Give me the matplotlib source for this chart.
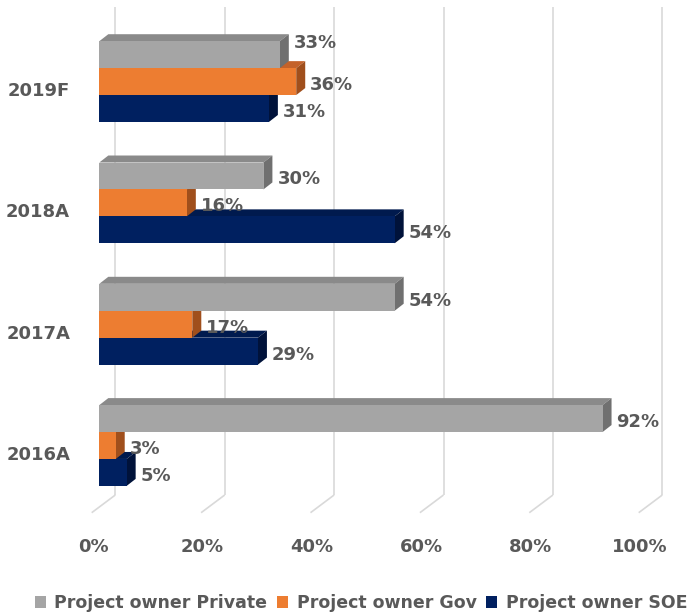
import matplotlib
matplotlib.use("Agg")
import matplotlib.pyplot as plt
from matplotlib.patches import Polygon, Patch
import numpy as np

# ---------------- data ----------------
categories = ["2016A", "2017A", "2018A", "2019F"]
series_names = ["Project owner Private", "Project owner Gov", "Project owner SOE"]
private_vals = [92, 54, 30, 33]
gov_vals = [3, 17, 16, 36]
soe_vals = [5, 29, 54, 31]
x_ticks = [0, 20, 40, 60, 80, 100]
x_tick_labels = ["0%", "20%", "40%", "60%", "80%", "100%"]

# ---------------- style ----------------
W, H = 692, 616
front_cols = ["#A5A5A5", "#ED7D31", "#002060"]
top_cols = ["#8A8A8A", "#C4622A", "#001A4E"]
side_cols = ["#707070", "#A04F1C", "#00123A"]
text_col = "#595959"
grid_col = "#D9D9D9"

x0_px = 99.3        # pixel of 0% on the bar front plane
px_per_pct = 5.47
y0_px = 170.5       # pixel (from bottom) of first group centre
px_per_grp = 121.3
bar_h = 0.222

def dx(px):
    return px / px_per_pct

def dy(px):
    return px / px_per_grp

fig = plt.figure(figsize=(W / 100, H / 100), dpi=100)
ax = fig.add_axes([0, 0, 1, 1])
ax.set_xlim(-x0_px / px_per_pct, (W - x0_px) / px_per_pct)
ax.set_ylim(-y0_px / px_per_grp, (H - y0_px) / px_per_grp)
ax.axis("off")

# ---------------- gridlines (back wall + floor) ----------------
back_x = dx(16)
floor_back_y = dy(H - 495 - y0_px)
top_y = dy(H - 7 - y0_px)
floor_front_dx = dx(-7.6)
floor_front_y = dy(H - 512.7 - y0_px)
for v in x_ticks:
    ax.plot([v + back_x, v + back_x], [floor_back_y, top_y], color=grid_col,
            lw=1.2, zorder=1, solid_capstyle="butt")
    ax.plot([v + back_x, v + floor_front_dx], [floor_back_y, floor_front_y],
            color=grid_col, lw=1.2, zorder=1, solid_capstyle="butt")

# tick labels on the floor front edge
tick_base_y = dy(H - 551.5 - y0_px)
for v, lab in zip(x_ticks, x_tick_labels):
    ax.text(v + dx(-6.3), tick_base_y, lab, ha="center", va="baseline",
            fontsize=13, fontweight="bold", color=text_col)

# ---------------- 3D-ish bars ----------------
series = [private_vals, gov_vals, soe_vals]
offsets = [bar_h, 0.0, -bar_h]
ddx, ddy = dx(9), dy(7)
label_nudge = {(3, 0): dy(14.8)}   # 2019F Private label lifted (as in source)

ypos = np.arange(len(categories))
order = [2, 1, 0]  # draw bottom bar first so upper bars occlude correctly
for si in order:
    vals = series[si]
    z = 3 + (2 - si)
    yc = ypos + offsets[si]
    ax.barh(yc, vals, height=bar_h, left=0, color=front_cols[si],
            edgecolor="none", zorder=z + 0.2)
    for gi, (v, y) in enumerate(zip(vals, yc)):
        yt = y + bar_h / 2
        yb = y - bar_h / 2
        top = Polygon([(0, yt), (v, yt), (v + ddx, yt + ddy), (ddx, yt + ddy)],
                      closed=True, facecolor=top_cols[si], edgecolor="none",
                      zorder=z)
        side = Polygon([(v, yb), (v, yt), (v + ddx, yt + ddy), (v + ddx, yb + ddy)],
                       closed=True, facecolor=side_cols[si], edgecolor="none",
                       zorder=z + 0.1)
        ax.add_patch(top)
        ax.add_patch(side)
        ly = y - dy(2) - dy(6.5) + label_nudge.get((gi, si), 0.0)
        ax.text(v + ddx + dx(5), ly, f"{v}%", ha="left", va="baseline",
                fontsize=13, fontweight="bold", color=text_col, zorder=10)

# category labels
for i, cat in enumerate(categories):
    ax.text(dx(70 - x0_px), i - dy(8 + 6.5), cat, ha="right", va="baseline",
            fontsize=13, fontweight="bold", color=text_col)

# ---------------- legend ----------------
handles = [Patch(facecolor=c, edgecolor="none") for c in front_cols]
leg = fig.legend(handles, series_names, loc="center", ncol=3,
                 bbox_to_anchor=(361 / W, 1 - 603 / H), frameon=False,
                 prop={"size": 12.5, "weight": "bold"},
                 handlelength=0.63, handleheight=0.63, handletextpad=0.5,
                 columnspacing=0.55, borderpad=0, borderaxespad=0)
for t in leg.get_texts():
    t.set_color(text_col)

fig.savefig("out.png", dpi=100)
